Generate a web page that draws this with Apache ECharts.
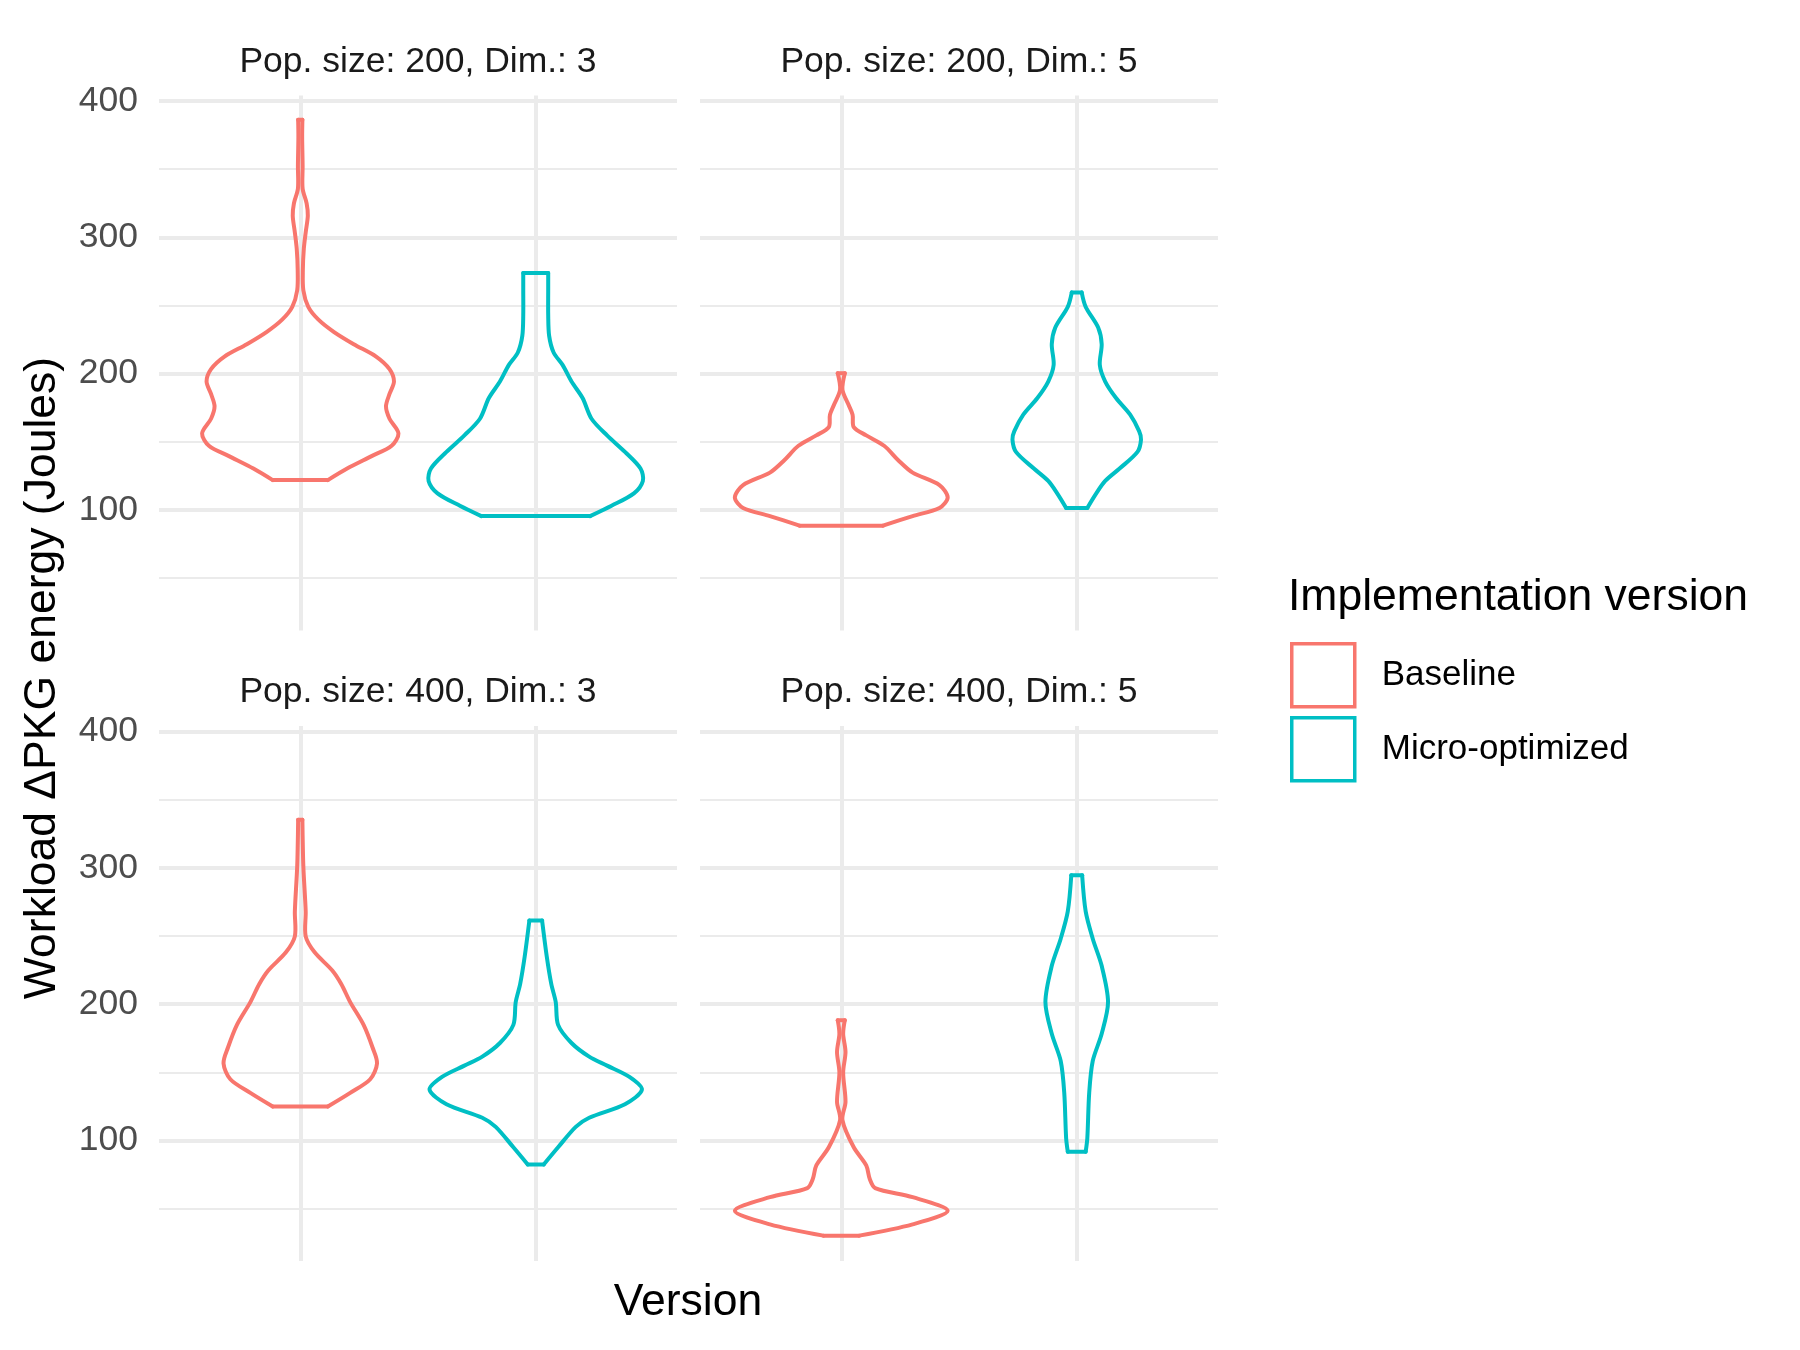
<!DOCTYPE html>
<html>
<head>
<meta charset="utf-8">
<script src="https://cdn.jsdelivr.net/npm/echarts@6/dist/echarts.min.js"></script>
<style>
  html, body { margin: 0; padding: 0; background: #fff; }
  #chart { width: 1800px; height: 1350px; }
</style>
</head>
<body>
<div id="chart"></div>
<script>
const panelTitles = ['Pop. size: 200, Dim.: 3', 'Pop. size: 200, Dim.: 5', 'Pop. size: 400, Dim.: 3', 'Pop. size: 400, Dim.: 5'];
const versions = ['Baseline', 'Micro-optimized'];
const yTicks = [100, 200, 300, 400];
const yMinorTicks = [50, 150, 250, 350];

// violin outlines, top to bottom: energy (J) and half width (in category units)
const p1BaseY = [386.3, 373.6, 352.3, 335.6, 324.9, 315.8, 303.6, 291.5, 276.3, 261.1, 249, 239.8, 230.7, 221.6, 212.5, 203.3, 194.2, 185.1, 176, 166.9, 156.2, 147.1, 139.5, 130.4, 121.9];
const p1BaseW = [0.009, 0.008, 0.01, 0.01, 0.027, 0.032, 0.023, 0.015, 0.011, 0.013, 0.034, 0.076, 0.142, 0.227, 0.322, 0.379, 0.398, 0.379, 0.364, 0.379, 0.417, 0.388, 0.303, 0.199, 0.117];
const p1MicroY = [273.9, 261.1, 242.9, 227.7, 215.5, 206.4, 194.2, 182.1, 166.9, 154.7, 142.6, 130.4, 121.3, 112.2, 103.1, 95.5];
const p1MicroW = [0.053, 0.053, 0.053, 0.057, 0.076, 0.114, 0.152, 0.199, 0.237, 0.303, 0.379, 0.445, 0.455, 0.417, 0.322, 0.231];

const p2BaseY = [200.3, 188.2, 177.5, 169.9, 160.8, 154.7, 147.1, 136.5, 127.4, 118.3, 109.2, 101.5, 95.5, 88.5];
const p2BaseW = [0.015, 0.005, 0.03, 0.048, 0.053, 0.106, 0.182, 0.242, 0.303, 0.417, 0.452, 0.417, 0.303, 0.177];
const p2MicroY = [259.6, 249, 233.8, 221.6, 206.4, 194.2, 182.1, 169.9, 157.8, 151.7, 142.6, 130.4, 121.3, 112.2, 101.5];
const p2MicroW = [0.021, 0.038, 0.091, 0.106, 0.098, 0.121, 0.167, 0.227, 0.265, 0.273, 0.258, 0.182, 0.121, 0.083, 0.045];

const p3BaseY = [335.2, 301.2, 268, 249.7, 238, 224.7, 214.8, 201.5, 184.8, 168.2, 156.6, 144.9, 134.9, 124.9];
const p3BaseW = [0.009, 0.013, 0.023, 0.023, 0.061, 0.136, 0.174, 0.212, 0.269, 0.307, 0.326, 0.297, 0.212, 0.117];
const p3MicroY = [261.3, 234.7, 214.8, 201.5, 184.8, 171.5, 161.5, 154.9, 146.6, 137.3, 126.6, 116.7, 110, 95, 82.4];
const p3MicroW = [0.027, 0.047, 0.066, 0.085, 0.095, 0.152, 0.227, 0.303, 0.398, 0.451, 0.379, 0.227, 0.17, 0.095, 0.034];

const p4BaseY = [188.2, 178.2, 164.9, 149.9, 128.3, 115, 95, 81.7, 71.7, 65.1, 58.4, 48.4, 38.5, 30.2];
const p4BaseW = [0.015, 0.008, 0.018, 0.008, 0.018, 0.005, 0.053, 0.106, 0.121, 0.144, 0.303, 0.452, 0.303, 0.076];
const p4MicroY = [294.6, 268, 248, 228.1, 201.5, 178.2, 158.3, 135, 101.7, 91.7];
const p4MicroW = [0.023, 0.038, 0.068, 0.106, 0.133, 0.106, 0.068, 0.053, 0.045, 0.038];

const colors = ['#F8766D', '#00BFC4'];
const font = '"Liberation Sans", Arial, sans-serif';

const grids = [
  { left: 159, top: 95.5, width: 518, height: 535 },
  { left: 700, top: 95.5, width: 518, height: 535 },
  { left: 159, top: 726, width: 518, height: 535 },
  { left: 700, top: 726, width: 518, height: 535 }
];

function violin(grid, cat, ys, ws, v) {
  return {
    type: 'custom',
    name: versions[v],
    xAxisIndex: grid,
    yAxisIndex: grid,
    z: 3,
    silent: true,
    itemStyle: { color: colors[v] },
    data: [[cat, ys[0]]],
    renderItem: function (params, api) {
      let left = [], right = [];
      for (let i = 0; i < ys.length; i++) {
        left.push(api.coord([cat - ws[i], ys[i]]));
        right.push(api.coord([cat + ws[i], ys[i]]));
      }
      let n = ys.length - 1;
      let st = { fill: 'none', stroke: colors[v], lineWidth: 4, lineJoin: 'round', lineCap: 'round' };
      // sides are smoothed, the top and bottom caps stay flat like ggplot's
      return {
        type: 'group',
        children: [
          { type: 'polyline', shape: { points: left, smooth: 0.3 }, style: st },
          { type: 'polyline', shape: { points: right, smooth: 0.3 }, style: st },
          { type: 'polyline', shape: { points: [left[0], right[0]] }, style: st },
          { type: 'polyline', shape: { points: [left[n], right[n]] }, style: st }
        ]
      };
    }
  };
}

function gridLines(grid) {
  let lines = [];
  yMinorTicks.forEach(v => lines.push({ yAxis: v, lineStyle: { color: '#EBEBEB', width: 2, type: 'solid' } }));
  yTicks.forEach(v => lines.push({ yAxis: v, lineStyle: { color: '#EBEBEB', width: 4, type: 'solid' } }));
  [1, 2].forEach(c => lines.push({ xAxis: c, lineStyle: { color: '#EBEBEB', width: 4, type: 'solid' } }));
  return {
    type: 'line',
    xAxisIndex: grid,
    yAxisIndex: grid,
    data: [[1, 100]],
    showSymbol: false,
    lineStyle: { opacity: 0 },
    silent: true,
    z: 1,
    markLine: {
      z: 1,
      silent: true,
      symbol: ['none', 'none'],
      label: { show: false },
      data: lines
    }
  };
}

let series = [];
for (let g = 0; g < 4; g++) series.push(gridLines(g));
series.push(violin(0, 1, p1BaseY, p1BaseW, 0));
series.push(violin(0, 2, p1MicroY, p1MicroW, 1));
series.push(violin(1, 1, p2BaseY, p2BaseW, 0));
series.push(violin(1, 2, p2MicroY, p2MicroW, 1));
series.push(violin(2, 1, p3BaseY, p3BaseW, 0));
series.push(violin(2, 2, p3MicroY, p3MicroW, 1));
series.push(violin(3, 1, p4BaseY, p4BaseW, 0));
series.push(violin(3, 2, p4MicroY, p4MicroW, 1));

let texts = panelTitles.map((t, i) => ({
  type: 'text',
  x: grids[i].left + grids[i].width / 2,
  y: i < 2 ? 62 : 692,
  style: { text: t, font: '35.5px ' + font, fill: '#1A1A1A', align: 'center', verticalAlign: 'middle' }
}));
texts.push({
  type: 'text', x: 688, y: 1303,
  style: { text: 'Version', font: '44.5px ' + font, fill: '#000', align: 'center', verticalAlign: 'middle' }
});
texts.push({
  type: 'text', x: 42.5, y: 678, rotation: Math.PI / 2,
  style: { text: 'Workload ΔPKG energy (Joules)', font: '44.5px ' + font, fill: '#000', align: 'center', verticalAlign: 'middle' }
});
texts.push({
  type: 'text', x: 1288, y: 598,
  style: { text: 'Implementation version', font: '44.5px ' + font, fill: '#000', align: 'left', verticalAlign: 'middle' }
});

let options = {
  backgroundColor: '#fff',
  animation: false,
  grid: grids,
  xAxis: grids.map((g, i) => ({
    type: 'value', gridIndex: i, min: 0.4, max: 2.6,
    axisLine: { show: false }, axisTick: { show: false }, axisLabel: { show: false }, splitLine: { show: false }
  })),
  yAxis: grids.map((g, i) => ({
    type: 'value', gridIndex: i, min: 11.6, max: 404,
    axisLine: { show: false }, axisTick: { show: false }, splitLine: { show: false },
    axisLabel: {
      show: i % 2 === 0, customValues: yTicks, margin: 21,
      fontSize: 35.5, color: '#4D4D4D', fontFamily: font
    }
  })),
  legend: {
    orient: 'vertical',
    left: 1290,
    top: 642,
    padding: 0,
    itemWidth: 63,
    itemHeight: 63,
    itemGap: 7.5,
    selectedMode: false,
    textStyle: { fontSize: 35, color: '#000', fontFamily: font, padding: [0, 0, 0, 22] },
    data: versions.map((n, i) => ({
      name: n, icon: 'rect',
      itemStyle: { color: '#fff', borderColor: colors[i], borderWidth: 3.5 }
    }))
  },
  graphic: texts,
  series: series
};

let myChart = echarts.init(document.getElementById('chart'));
myChart.setOption(options);
</script>
</body>
</html>
